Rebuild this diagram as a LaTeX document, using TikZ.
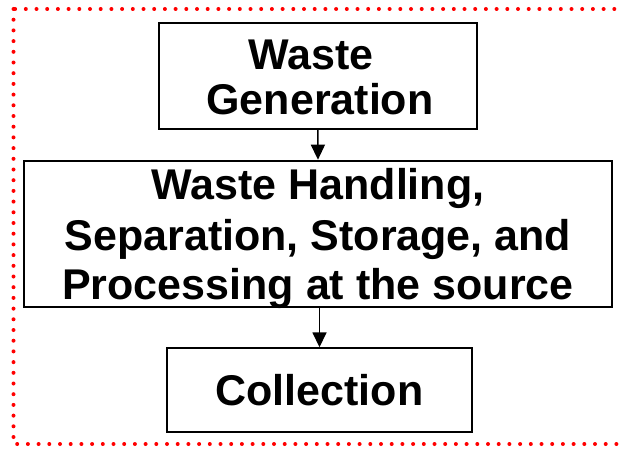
\documentclass[tikz,border=0pt]{standalone}
\usepackage{fontspec}
\setmainfont{Liberation Sans}
\usetikzlibrary{arrows.meta}
\tikzset{
  box/.style={draw=black, line width=2pt, fill=white, inner sep=0pt},
  txt/.style={anchor=base, inner sep=0pt, font=\bfseries\fontsize{43}{50}\selectfont},
  flow/.style={line width=1.6pt, -{Triangle[width=14pt,length=15pt]}},
  border/.style={red, line width=4pt, dash pattern=on 0pt off 10.7pt, line cap=round}
}
\begin{document}
\begin{tikzpicture}[x=1pt,y=-1pt]
\useasboundingbox (0,0) rectangle (623,452);
\draw[border] (13.5,9) rectangle (660,444);
% boxes
\node[box, minimum width=317.7pt, minimum height=106.3pt] (gen) at (317.8,75.9) {};
\node[box, minimum width=588pt, minimum height=146pt] (hand) at (318,233.7) {};
\node[box, minimum width=305pt, minimum height=84pt] (col) at (319.5,390.3) {};
% texts
\node[txt] (g1) at (311,69) {Waste};
\node[txt] (g2) at (320,114) {Generation};
\node[txt] (h1) at (318,199.3) {Waste Handling,};
\node[txt] (h2) at (318,250) {Separation, Storage, and};
\node[txt] (h3) at (318,299.5) {Processing at the source};
\node[txt] (c1) at (319.5,405.5) {Collection};
% connectors
\draw[flow] (gen.south) -- (hand.north);
\draw[flow] (hand.south -| col.north) -- (col.north);
\end{tikzpicture}
\end{document}
